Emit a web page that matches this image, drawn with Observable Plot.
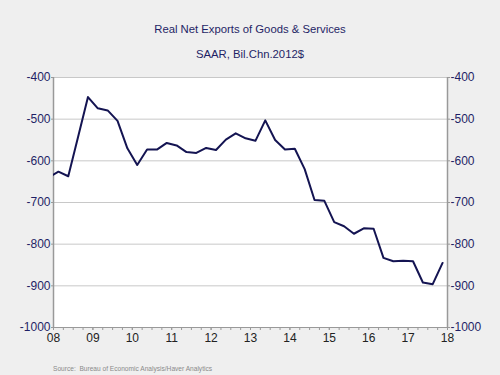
<!DOCTYPE html>
<html><head><meta charset="utf-8">
<script src="https://cdn.jsdelivr.net/npm/d3@7"></script>
<script src="https://cdn.jsdelivr.net/npm/@observablehq/plot@0.6"></script>
<style>
body{margin:0;background:#efefef;font-family:"Liberation Sans",Arial,sans-serif;}
#wrap{position:relative;width:500px;height:375px;overflow:hidden;background:#efefef;}
#chart{position:absolute;left:0;top:0;}
.t{position:absolute;left:0;width:500px;text-align:center;color:#1f1f66;white-space:nowrap;}
#src{position:absolute;left:53px;top:365px;font-size:6.6px;color:#8a8a8a;white-space:nowrap;}
</style></head><body>
<div id="wrap">
<div id="chart"></div>
<div class="t" style="top:23px;font-size:11.3px">Real Net Exports of Goods &amp; Services</div>
<div class="t" style="top:48px;font-size:11.3px">SAAR, Bil.Chn.2012$</div>
<div id="src">Source:&nbsp; Bureau of Economic Analysis/Haver Analytics</div>
</div>
<script>
const quarters = [
  "2007Q4",
  "2008Q1","2008Q2","2008Q3","2008Q4",
  "2009Q1","2009Q2","2009Q3","2009Q4",
  "2010Q1","2010Q2","2010Q3","2010Q4",
  "2011Q1","2011Q2","2011Q3","2011Q4",
  "2012Q1","2012Q2","2012Q3","2012Q4",
  "2013Q1","2013Q2","2013Q3","2013Q4",
  "2014Q1","2014Q2","2014Q3","2014Q4",
  "2015Q1","2015Q2","2015Q3","2015Q4",
  "2016Q1","2016Q2","2016Q3","2016Q4",
  "2017Q1","2017Q2","2017Q3","2017Q4"
];
const netExports = [
  -640,
  -626, -637, -542, -447,
  -474, -479, -504, -570,
  -610, -573, -573, -557,
  -563, -579, -581, -569,
  -574, -549, -534, -546,
  -552, -503, -550, -573,
  -571, -620, -694, -696,
  -747, -757, -775, -762,
  -763, -833, -841, -840,
  -841, -892, -896, -845
];
const yearTicks = [2008,2009,2010,2011,2012,2013,2014,2015,2016,2017,2018];
const yearLabels = ["08","09","10","11","12","13","14","15","16","17","18"];
const yTicks = [-1000,-900,-800,-700,-600,-500,-400];

const data = quarters.map((q, i) => ({
  t: +q.slice(0,4) + (+q.slice(5) - 0.5) / 4,
  v: netExports[i]
}));
const quarterTicks = d3.range(2008, 2018.001, 0.25);
const navy = "#1f1f66";

const chart = Plot.plot({
  width: 500, height: 375,
  marginTop: 77, marginBottom: 48, marginLeft: 53, marginRight: 53,
  style: {background: "transparent", fontFamily: "'Liberation Sans', Arial, sans-serif", fontSize: "12px", color: navy},
  x: {domain: [2008, 2018]},
  y: {domain: [-1000, -400]},
  marks: [
    Plot.frame({fill: "white", stroke: null}),
    Plot.gridY(yTicks, {stroke: "#c8c8c8", strokeOpacity: 1}),
    Plot.axisY({anchor: "left", ticks: yTicks, tickSize: 2, tickPadding: 1, fill: navy, stroke: "#999", label: null, tickFormat: d => String(d)}),
    Plot.axisY({anchor: "right", ticks: yTicks, tickSize: 2, tickPadding: 1, fill: navy, stroke: "#999", label: null, tickFormat: d => String(d)}),
    Plot.axisX({ticks: quarterTicks, tickSize: 3, tickFormat: () => "", label: null, stroke: "#999"}),
    Plot.axisX({ticks: yearTicks, tickSize: 3, tickPadding: 3, fill: "#222", stroke: "#999", label: null, tickFormat: d => yearLabels[yearTicks.indexOf(d)]}),
    Plot.ruleX([2008, 2018], {stroke: "#999", strokeWidth: 1.5}),
    Plot.ruleY([-1000], {stroke: "#999"}),
    Plot.line(data, {x: "t", y: "v", stroke: "#141452", strokeWidth: 2, clip: true})
  ]
});
document.getElementById("chart").appendChild(chart);
</script>
</body></html>
